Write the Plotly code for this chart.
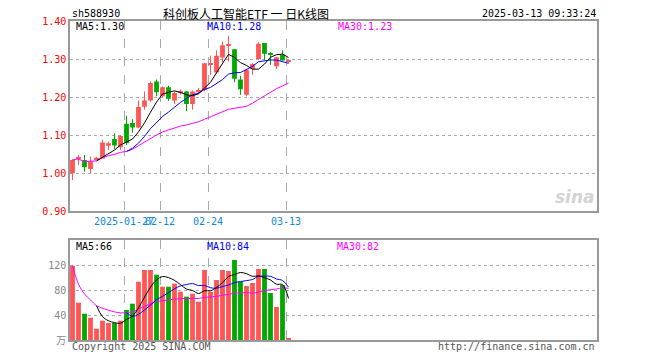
import math
import pandas as pd
import plotly.graph_objects as go

# ---------------- data ----------------
dates = [
    "2025-01-14", "2025-01-15", "2025-01-16", "2025-01-17", "2025-01-20",
    "2025-01-21", "2025-01-22", "2025-01-23", "2025-01-24", "2025-01-27",
    "2025-02-05", "2025-02-06", "2025-02-07", "2025-02-10", "2025-02-11",
    "2025-02-12", "2025-02-13", "2025-02-14", "2025-02-17", "2025-02-18",
    "2025-02-19", "2025-02-20", "2025-02-21", "2025-02-24", "2025-02-25",
    "2025-02-26", "2025-02-27", "2025-02-28", "2025-03-03", "2025-03-04",
    "2025-03-05", "2025-03-06", "2025-03-07", "2025-03-10", "2025-03-11",
    "2025-03-12", "2025-03-13",
]
opens = [1.000, 1.038, 1.035, 1.011, 1.037, 1.039, 1.072, 1.090, 1.068, 1.130,
         1.132, 1.120, 1.175, 1.191, 1.241, 1.202, 1.226, 1.191, 1.211, 1.215,
         1.182, 1.213, 1.219, 1.287, 1.265, 1.304, 1.336, 1.326, 1.246, 1.206,
         1.274, 1.300, 1.342, 1.314, 1.281, 1.311, 1.294]
highs = [1.037, 1.048, 1.048, 1.044, 1.043, 1.088, 1.083, 1.105, 1.100, 1.151,
         1.142, 1.191, 1.215, 1.241, 1.246, 1.228, 1.230, 1.215, 1.220, 1.216,
         1.217, 1.224, 1.290, 1.309, 1.323, 1.346, 1.361, 1.326, 1.256, 1.274,
         1.289, 1.345, 1.342, 1.318, 1.305, 1.323, 1.298]
lows = [0.982, 1.022, 1.004, 1.000, 1.035, 1.039, 1.061, 1.064, 1.061, 1.074,
        1.107, 1.118, 1.167, 1.188, 1.202, 1.200, 1.190, 1.182, 1.206, 1.163,
        1.167, 1.210, 1.215, 1.259, 1.262, 1.291, 1.294, 1.239, 1.206, 1.202,
        1.259, 1.298, 1.298, 1.285, 1.274, 1.296, 1.289]
closes = [1.035, 1.040, 1.016, 1.031, 1.041, 1.081, 1.079, 1.073, 1.098, 1.079,
          1.120, 1.174, 1.191, 1.237, 1.213, 1.226, 1.196, 1.211, 1.215, 1.182,
          1.215, 1.219, 1.289, 1.289, 1.309, 1.336, 1.339, 1.248, 1.221, 1.272,
          1.287, 1.340, 1.314, 1.311, 1.305, 1.296, 1.295]
volumes = [118.9, 59.7, 42.1, 35.7, 18.1, 30.9, 27.2, 27.2, 30.9, 48.0,
           58.1, 93.3, 112.0, 112.0, 104.5, 85.3, 85.3, 90.1, 77.3, 69.3,
           74.1, 61.3, 112.0, 77.3, 96.0, 112.0, 110.4, 128.0, 93.3, 86.4,
           91.2, 113.6, 113.6, 75.2, 52.8, 88.0, 3.2]

label_dates = ["2025-01-27", "2025-02-12", "2025-02-24", "2025-03-13"]
label_texts = ["2025-01-27", "02-12", "02-24", "03-13"]
price_ticks = [0.90, 1.00, 1.10, 1.20, 1.30, 1.40]
vol_ticks = [0, 40, 80, 120]
vol_tick_texts = ["万", "40", "80", "120"]

code = "sh588930"
title = "科创板人工智能ETF 一 日K线图"
stamp = "2025-03-13 09:33:24"

# ---------------- derived ----------------
RED = "#ff5555"
GREEN = "#00a800"
idx = list(range(len(dates)))
up = [c >= o for o, c in zip(opens, closes)]
colors = [RED if u else GREEN for u in up]

cs = pd.Series(closes)
vs = pd.Series(volumes)
ma5 = cs.rolling(5).mean()
ma10 = cs.rolling(10).mean()
ma30 = cs.rolling(30, min_periods=1).mean()
vma5 = vs.rolling(5).mean()
vma10 = vs.rolling(10).mean()
vma30 = vs.rolling(30, min_periods=1).mean()


def trunc(v, nd):
    f = 10 ** nd
    return math.floor(v * f + 1e-9) / f


# layout geometry (page pixels); the html body adds an 8px offset
W, H = 660, 360
OFF = 8
L, R, T, B = 70, 597, 21, 340
SLOT = 6.0
X0 = -2.5 / SLOT
X1 = X0 + (R - L) / SLOT


def px(x):
    return (x - L) / (R - L)


def py(y):
    return (B - y) / (B - T)


tick_pos = [dates.index(d) - 2.5 / SLOT for d in label_dates]

fig = go.Figure()

# candle bodies
body_h = [max(abs(c - o), 0.003) for o, c in zip(opens, closes)]
body_b = [min(o, c) if abs(c - o) >= 0.003 else (o + c) / 2 - 0.0015
          for o, c in zip(opens, closes)]
fig.add_trace(go.Bar(x=idx, y=body_h, base=body_b, width=0.8,
                     marker=dict(color=colors, line=dict(width=0)),
                     xaxis="x", yaxis="y", hoverinfo="skip"))

# wicks
for col, flag in ((RED, True), (GREEN, False)):
    wx, wy = [], []
    for i in idx:
        if up[i] == flag:
            wx += [i, i, None]
            wy += [lows[i], highs[i], None]
    fig.add_trace(go.Scatter(x=wx, y=wy, mode="lines",
                             line=dict(color=col, width=1),
                             xaxis="x", yaxis="y", hoverinfo="skip"))

# price MAs
for s, col in ((ma30, "#ff00ff"), (ma10, "#0000ff"), (ma5, "#000000")):
    fig.add_trace(go.Scatter(x=idx, y=s, mode="lines",
                             line=dict(color=col, width=1),
                             xaxis="x", yaxis="y", hoverinfo="skip"))

# volume bars
fig.add_trace(go.Bar(x=idx, y=volumes, width=0.8,
                     marker=dict(color=colors, line=dict(width=0)),
                     xaxis="x2", yaxis="y2", hoverinfo="skip"))
for s, col in ((vma30, "#ff00ff"), (vma10, "#0000ff"), (vma5, "#000000")):
    fig.add_trace(go.Scatter(x=idx, y=s, mode="lines",
                             line=dict(color=col, width=1, shape="spline"),
                             xaxis="x2", yaxis="y2", hoverinfo="skip"))

MONO = "DejaVu Sans Mono, Noto Sans CJK SC, monospace"
GRID = "#aaaaaa"
LINE = "#999999"

xcommon = dict(range=[X0, X1], tickmode="array", tickvals=tick_pos,
               showgrid=True, gridcolor=GRID, griddash="dash", gridwidth=1,
               showline=True, mirror=True, linecolor=LINE, linewidth=1.5,
               zeroline=False, ticks="", fixedrange=True, tickangle=0,
               automargin=False)

fig.update_layout(
    width=W, height=H,
    margin=dict(l=L - OFF, r=W - (R - OFF), t=T - OFF, b=H - (B - OFF),
                autoexpand=False),
    paper_bgcolor="white", plot_bgcolor="white",
    showlegend=False, barmode="overlay",
    font=dict(family=MONO, size=10, color="#000"),
    xaxis=dict(domain=[0, 1], anchor="y", ticktext=label_texts,
               tickfont=dict(color="#1188dd", size=10, family=MONO),
               **xcommon),
    yaxis=dict(domain=[py(211.3), 1], range=[0.90, 1.40], tickmode="array",
               tickvals=price_ticks, ticktext=[f"{v:.2f}" for v in price_ticks],
               tickfont=dict(color="#ff0000", size=10, family=MONO),
               showgrid=True, gridcolor=GRID, griddash="dot", gridwidth=1,
               showline=True, mirror=True, linecolor=LINE, linewidth=1.5,
               zeroline=False, ticks="", anchor="x", automargin=False),
    xaxis2=dict(domain=[0, 1], anchor="y2", matches="x",
                showticklabels=False, ticktext=label_texts, **xcommon),
    yaxis2=dict(domain=[0, py(240)], range=[0, 160], tickmode="array",
                tickvals=vol_ticks, ticktext=vol_tick_texts,
                tickfont=dict(color="#888888", size=10, family=MONO),
                showgrid=True, gridcolor=GRID, griddash="dot", gridwidth=1,
                showline=True, mirror=True, linecolor=LINE, linewidth=1.5,
                zeroline=False, ticks="", anchor="x2", automargin=False),
)


def note(text, x, y, color="#000", size=10, anchor="left", family=MONO):
    fig.add_annotation(text=text, x=px(x), y=py(y), xref="paper", yref="paper",
                       xanchor=anchor, yanchor="middle", showarrow=False,
                       font=dict(color=color, size=size, family=family))


note(code, 70, 13)
note(title, 246, 14, size=12, anchor="center",
     family="Noto Sans CJK SC, DejaVu Sans Mono")
note(stamp, 598, 13, anchor="right")

n = len(closes) - 1
note(f"MA5:{trunc(ma5[n], 2):.2f}", 74, 27, "#000000")
note(f"MA10:{trunc(ma10[n], 2):.2f}", 205, 27, "#0000ff")
note(f"MA30:{trunc(ma30[n], 2):.2f}", 336, 27, "#ff00ff")
note(f"MA5:{int(trunc(vma5[n], 0))}", 74, 246, "#000000")
note(f"MA10:{int(trunc(vma10[n], 0))}", 205, 246, "#0000ff")
note(f"MA30:{int(trunc(vma30[n], 0))}", 335, 246, "#ff00ff")

note("Copyright 2025 SINA.COM", 70, 346, "#555555")
note("http://finance.sina.com.cn", 597, 346, "#555555", anchor="right")
note("<b><i>sina</i></b>", 597, 197, "#d4d4d4", size=17, anchor="right",
     family="DejaVu Sans, sans-serif")

fig.write_html("out.html")
